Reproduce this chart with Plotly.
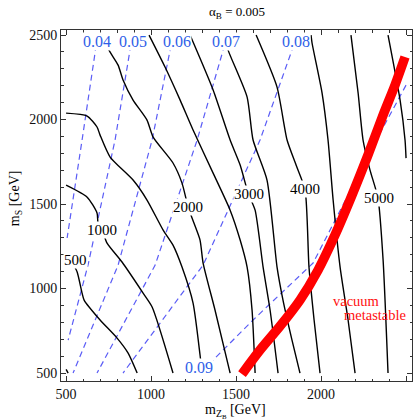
import plotly.graph_objects as go

# ---- black solid contours (m_S, m_ZB in GeV) ----
c0_x = [500, 512]
c0_y = [522, 500]
c500_x = [515, 535, 565, 594, 606, 700, 800, 865, 918]
c500_y = [1190, 1157, 1098, 973, 932, 814, 707, 618, 500]
c1000_x = [500, 624, 682, 688, 712, 741, 829, 953, 1006, 1129]
c1000_y = [1612, 1541, 1447, 1388, 1346, 1269, 1157, 973, 891, 500]
c1500_x = [500, 624, 682, 700, 759, 894, 976, 1071, 1129, 1182, 1247, 1288, 1300]
c1500_y = [2038, 2021, 1956, 1908, 1778, 1642, 1524, 1346, 1257, 1127, 914, 607, 500]
c2000_x = [706, 759, 806, 835, 894, 976, 1012, 1129, 1182, 1218, 1241, 1288, 1306, 1376, 1465]
c2000_y = [2500, 2399, 2322, 2234, 2115, 1997, 1896, 1743, 1624, 1482, 1417, 1287, 1151, 873, 500]
c2500_x = [988, 1082, 1171, 1247, 1365, 1465, 1524, 1565, 1594, 1612]
c2500_y = [2500, 2311, 2115, 1938, 1683, 1464, 1287, 1127, 873, 500]
c3000_x = [1229, 1247, 1365, 1465, 1524, 1571, 1612, 1659, 1700, 1747]
c3000_y = [2500, 2459, 2175, 1879, 1731, 1565, 1464, 1127, 873, 500]
c3500_x = [1429, 1453, 1565, 1600, 1682, 1741, 1776, 1829, 1876]
c3500_y = [2500, 2411, 2133, 1879, 1642, 1127, 932, 695, 500]
c4000_x = [1618, 1741, 1800, 1853, 1906, 1929, 1959, 1994]
c4000_y = [2500, 2192, 1879, 1731, 1583, 1127, 814, 500]
c4500_x = [1941, 1947, 2006, 2041, 2071, 2112, 2159, 2200]
c4500_y = [2500, 2453, 2157, 1879, 1524, 1127, 814, 500]
c5000_x = [2176, 2218, 2247, 2288, 2335, 2365, 2394]
c5000_y = [2500, 2157, 1879, 1701, 1535, 1169, 500]
c5500_x = [2394, 2465, 2494, 2500]
c5500_y = [2500, 2115, 1879, 1772]

# ---- blue dashed contours ----
d04_x = [682, 671, 594, 506]
d04_y = [2500, 2399, 1879, 1299]
d05_x = [882, 876, 788, 629, 512]
d05_y = [2500, 2411, 1879, 1139, 695]
d06_x = [1118, 1112, 1006, 806, 541]
d06_y = [2500, 2411, 1879, 1139, 500]
d07_x = [1435, 1424, 1271, 1024, 682]
d07_y = [2500, 2411, 1879, 1139, 500]
d08_x = [1847, 1829, 1641, 1306, 835]
d08_y = [2500, 2411, 1879, 1139, 500]
d09_x = [2500, 2347, 1953, 1600, 1365, 1318]
d09_y = [2204, 1920, 1151, 814, 577, 530]

# ---- vacuum metastability boundary ----
red_x = [1535, 1641, 1759, 1876, 1982, 2082, 2182, 2276, 2365, 2435, 2494]
red_y = [494, 636, 778, 932, 1109, 1317, 1553, 1790, 2027, 2204, 2370]

# ---- labels ----
black_labels = ["500", "1000", "2000", "3000", "4000", "5000"]
black_label_x = [553, 712, 1218, 1576, 1906, 2341]
black_label_y = [1169, 1346, 1482, 1559, 1589, 1535]
blue_labels = ["0.04", "0.05", "0.06", "0.07", "0.08", "0.09"]
blue_label_x = [682, 894, 1153, 1441, 1853, 1282]
blue_label_y = [2464, 2464, 2464, 2464, 2464, 530]

black = [(c0_x, c0_y), (c500_x, c500_y), (c1000_x, c1000_y), (c1500_x, c1500_y), (c2000_x, c2000_y),
         (c2500_x, c2500_y), (c3000_x, c3000_y), (c3500_x, c3500_y), (c4000_x, c4000_y),
         (c4500_x, c4500_y), (c5000_x, c5000_y), (c5500_x, c5500_y)]
blue = [(d04_x, d04_y), (d05_x, d05_y), (d06_x, d06_y), (d07_x, d07_y), (d08_x, d08_y), (d09_x, d09_y)]

SERIF = "Liberation Serif, Times New Roman, serif"
fig = go.Figure()
for xs, ys in blue:
    fig.add_trace(go.Scatter(x=xs, y=ys, mode="lines", hoverinfo="skip",
                             line=dict(color="#5a5cf6", width=1.2, dash="6px,4px")))
for xs, ys in black:
    fig.add_trace(go.Scatter(x=xs, y=ys, mode="lines", hoverinfo="skip",
                             line=dict(color="black", width=1.4, shape="spline", smoothing=0.6)))
fig.add_trace(go.Scatter(x=red_x, y=red_y, mode="lines", hoverinfo="skip",
                         line=dict(color="#ff0000", width=9.5, shape="spline", smoothing=0.8)))

ann = []
for t, x, y in zip(black_labels, black_label_x, black_label_y):
    ann.append(dict(x=x, y=y, text=t, showarrow=False, bgcolor="white", borderpad=0,
                    font=dict(family=SERIF, size=15, color="black")))
for t, x, y in zip(blue_labels, blue_label_x, blue_label_y):
    ann.append(dict(x=x, y=y, text=t, showarrow=False, bgcolor="white", borderpad=0,
                    font=dict(family=SERIF, size=16, color="#2f5fe8")))
ann.append(dict(x=2206, y=926, text="vacuum", showarrow=False,
                font=dict(family=SERIF, size=14.5, color="#ff1010")))
ann.append(dict(x=2512, y=843, text="metastable", showarrow=False, xanchor="right",
                font=dict(family=SERIF, size=14.5, color="#ff1010")))
ann.append(dict(xref="paper", yref="paper", x=0.5, y=1.051, yanchor="middle", xanchor="center",
                text="α<sub>B</sub> = 0.005",
                showarrow=False, font=dict(family=SERIF, size=13, color="black")))
ann.append(dict(xref="paper", yref="paper", x=-0.131, y=0.521, xanchor="center", yanchor="middle",
                text="m<sub>S</sub> [GeV]",
                textangle=-90, showarrow=False, font=dict(family=SERIF, size=14, color="black")))
ann.append(dict(xref="paper", yref="paper", x=0.497, y=-0.086, xanchor="center", yanchor="middle",
                text="m<sub>Z<sub>B</sub></sub> [GeV]",
                showarrow=False, font=dict(family=SERIF, size=14, color="black")))

axis = dict(showline=True, linecolor="#333", linewidth=1, mirror="allticks", ticks="inside",
            ticklen=5, tickcolor="#333", tickmode="linear", tick0=500, dtick=500,
            minor=dict(ticks="inside", ticklen=2.5, tickcolor="#333", tick0=500, dtick=100),
            showgrid=False, zeroline=False,
            tickfont=dict(family=SERIF, size=14, color="#111"))
fig.update_layout(
    width=418, height=420, margin=dict(l=61, r=6, t=30, b=39),
    paper_bgcolor="white", plot_bgcolor="white", showlegend=False,
    xaxis=dict(range=[470, 2535], **axis),
    yaxis=dict(range=[453, 2530], **axis),
    annotations=ann,
)
fig.write_html("out.html", config={"displayModeBar": False},
               post_script="document.body.style.margin='0';document.body.style.overflow='hidden';")
